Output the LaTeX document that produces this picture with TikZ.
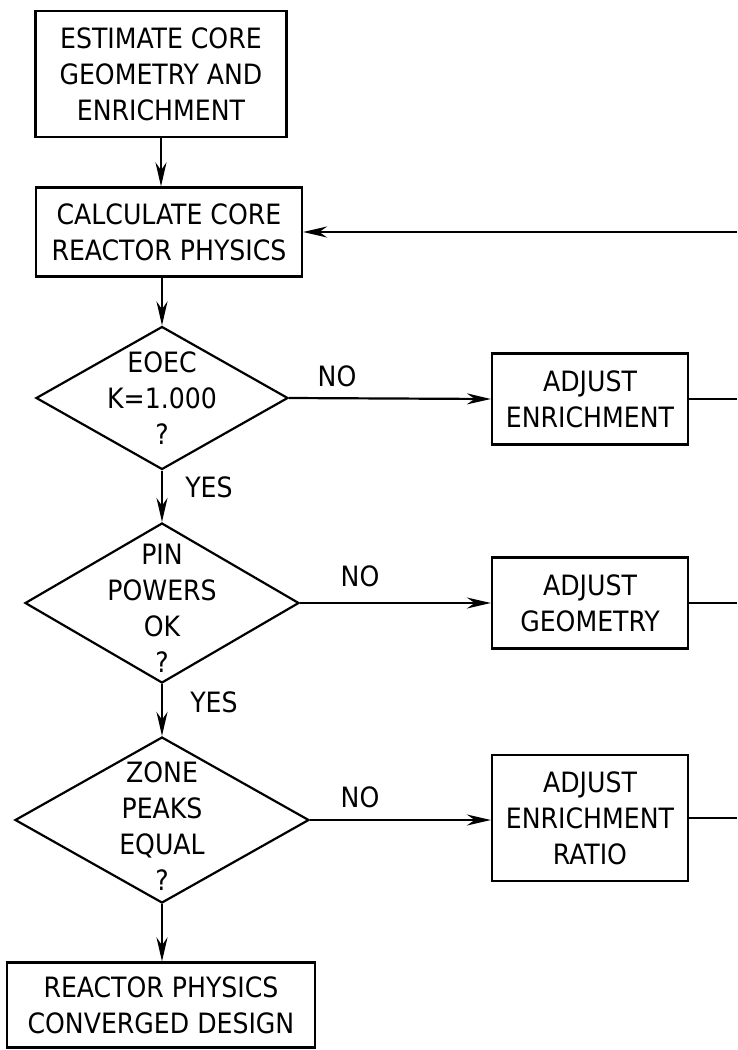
\documentclass[tikz,border=0pt]{standalone}
\usepackage{fontspec}
\setmainfont{DejaVu Sans Condensed}
\usetikzlibrary{shapes.geometric,arrows.meta}
\begin{document}
\begin{tikzpicture}[x=1pt,y=-1pt,>={Stealth[length=24pt,width=11pt]},
  every node/.style={font=\fontsize{28}{36}\selectfont},
  flow/.style={line width=2.2pt},
  stepbox/.style={draw,line width=2.2pt,inner sep=0pt,align=center},
  test/.style={draw,line width=2.2pt,shape=diamond,inner sep=0pt},
  tag/.style={inner sep=0pt}]
\useasboundingbox (0,0) rectangle (737,1050);
\node[stepbox,minimum width=251pt,minimum height=126pt] (est) at (161,74) {ESTIMATE CORE\\GEOMETRY AND\\ENRICHMENT};
\node[stepbox,minimum width=266pt,minimum height=89pt] (calc) at (169,232) {CALCULATE CORE\\REACTOR PHYSICS};
\node[test,minimum width=252pt,minimum height=143pt,label={[align=center]center:EOEC\\K=1.000\\?}] (keff) at (162,398) {};
\node[test,minimum width=274pt,minimum height=160pt,label={[align=center,yshift=-5pt]center:PIN\\POWERS\\OK\\?}] (pins) at (162,603) {};
\node[test,minimum width=294pt,minimum height=166pt,label={[align=center,yshift=-6pt]center:ZONE\\PEAKS\\EQUAL\\?}] (zone) at (162,820) {};
\node[stepbox,minimum width=308pt,minimum height=85pt] (done) at (161,1005) {REACTOR PHYSICS\\CONVERGED DESIGN};
\node[stepbox,minimum width=196pt,minimum height=91pt] (adjenr) at (590,399) {ADJUST\\ENRICHMENT};
\node[stepbox,minimum width=196pt,minimum height=91pt] (adjgeo) at (590,603) {ADJUST\\GEOMETRY};
\node[stepbox,minimum width=196pt,minimum height=126pt] (adjrat) at (590,818) {ADJUST\\ENRICHMENT\\RATIO};
\node[tag] (no1) at (337,376) {NO};
\node[tag] (no2) at (360,576) {NO};
\node[tag] (no3) at (360,797) {NO};
\node[tag] (yes1) at (209,487) {YES};
\node[tag] (yes2) at (214,702) {YES};
\coordinate (ret) at (737,232);
\draw[flow,->] (est.south) -- (est.south |- calc.north);
\draw[flow,->] (keff.north |- calc.south) -- (keff.north);
\draw[flow,->] (keff.south) -- (pins.north);
\draw[flow,->] (pins.south) -- (zone.north);
\draw[flow,->] (zone.south) -- (zone.south |- done.north);
\draw[flow,->] (keff.east) -- (adjenr.west);
\draw[flow,->] (pins.east) -- (adjgeo.west);
\draw[flow,->] (zone.east) -- (zone.east -| adjrat.west);
\draw[flow] (adjenr.east) -- (adjenr.east -| ret);
\draw[flow] (adjgeo.east) -- (adjgeo.east -| ret);
\draw[flow] (adjrat.east) -- (adjrat.east -| ret);
\draw[flow,->] (ret) -- (calc.east);
\end{tikzpicture}
\end{document}
